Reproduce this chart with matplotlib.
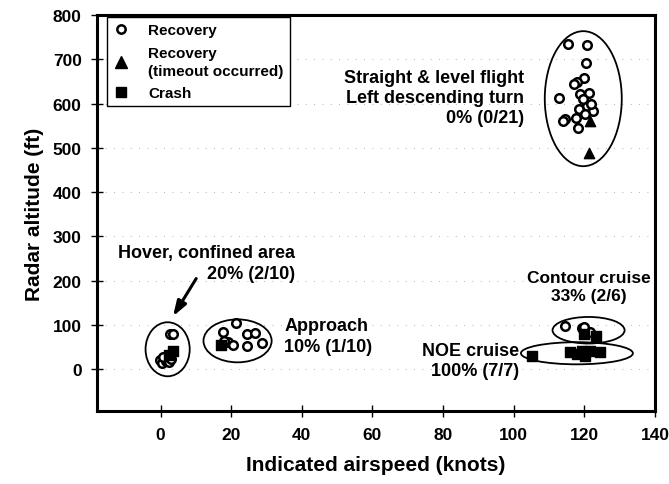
import matplotlib
matplotlib.use("Agg")
import matplotlib.pyplot as plt
from matplotlib.patches import Ellipse
from matplotlib.lines import Line2D

plt.rcParams["font.family"] = ["Liberation Sans", "DejaVu Sans"]
plt.rcParams["font.weight"] = "bold"

# ---- data (airspeed knots, radar altitude ft) ----
recovery_x = [115.3, 120.7, 120.4, 119.8, 117.8, 117.0, 112.7, 118.7, 121.2, 118.4,
              120.7, 122.4, 120.1, 117.6, 114.4, 113.9, 118.1, 119.5, 121.8,   # level / turn
              2.6, 3.6, -0.3, 0.4, 1.4, 2.4, 0.8, 3.0,                           # hover
              21.5, 17.6, 24.4, 26.6, 19.0, 20.4, 24.6, 28.6, 18.1,              # approach
              114.4, 119.3, 121.5, 120.0]                                        # contour
recovery_y = [734, 732, 691, 657, 648, 644, 612, 621, 624, 588,
              594, 583, 576, 567, 565, 561, 544, 610, 600,
              80, 80, 20, 14, 18, 17, 27, 22,
              104, 84, 79, 81, 61, 54, 52, 59, 64,
              97, 92, 83, 95]

timeout_x = [121.5, 121.3]
timeout_y = [561, 488]

crash_x = [3.6, 2.4,                                      # hover
           17.0,                                          # approach
           123.2, 119.8,                                  # contour
           105.1, 115.9, 119.3, 117.8, 121.5, 124.4, 120.1]  # NOE
crash_y = [42, 31,
           54,
           75, 80,
           29, 38, 41, 34, 41, 38, 29]

# group outlines: centre x, centre y, width, height
group_cx = [119.7, 2.0, 21.8, 121.2, 117.9]
group_cy = [611, 45, 64, 88, 36]
group_w = [21.8, 12.5, 19.3, 20.4, 31.7]
group_h = [305, 122, 97, 60, 50]

fig = plt.figure(figsize=(6.69, 4.85), dpi=100)
ax = fig.add_axes([0.145, 0.150, 0.834, 0.817])

for cx, cy, w, h in zip(group_cx, group_cy, group_w, group_h):
    ax.add_patch(Ellipse((cx, cy), w, h, fill=False, edgecolor="black",
                         linewidth=1.3, zorder=2))

ax.scatter(recovery_x, recovery_y, s=38, marker="o", facecolor="white",
           edgecolor="black", linewidths=1.8, zorder=3)
ax.scatter(timeout_x, timeout_y, s=55, marker="^", color="black", zorder=3)
ax.scatter(crash_x, crash_y, s=45, marker="s", color="black", zorder=3)

# annotations
txt = dict(fontsize=13, fontweight="bold")
ax.text(103, 614, "Straight & level flight\nLeft descending turn\n0% (0/21)",
        ha="right", va="center", linespacing=1.25, multialignment="right", **txt)
ax.text(38, 240, "Hover, confined area\n20% (2/10)", ha="right", va="center",
        linespacing=1.25, multialignment="right", **txt)
ax.annotate("", xy=(3.1, 114), xytext=(10.5, 210),
            arrowprops=dict(arrowstyle="-|>,head_width=0.3,head_length=0.9",
                            color="black", linewidth=2.2))
ax.text(35, 75, "Approach\n10% (1/10)", ha="left", va="center",
        linespacing=1.25, **txt)
ax.text(121.2, 187, "Contour cruise\n33% (2/6)", ha="center", va="center",
        linespacing=1.25, multialignment="center", fontsize=12.5, fontweight="bold")
ax.text(101.5, 20, "NOE cruise\n100% (7/7)", ha="right", va="center",
        linespacing=1.25, multialignment="right", **txt)

ax.set_xlim(-18, 140)
ax.set_ylim(-95, 800)
ax.set_xticks(range(0, 141, 20))
ax.set_yticks(range(0, 801, 100))
ax.tick_params(direction="inout", length=8, width=1, labelsize=12.5, pad=7)
for lab in ax.get_xticklabels() + ax.get_yticklabels():
    lab.set_fontweight("bold")
for sp in ax.spines.values():
    sp.set_linewidth(2.2)

ax.yaxis.grid(True, linestyle=(0, (1, 9)), color="0.6", linewidth=0.6)
ax.set_axisbelow(True)

ax.set_xlabel("Indicated airspeed (knots)", fontsize=15, fontweight="bold", labelpad=10)
ax.set_ylabel("Radar altitude (ft)", fontsize=15, fontweight="bold", labelpad=6)

handles = [
    Line2D([], [], linestyle="none", marker="o", markersize=6, markerfacecolor="white",
           markeredgecolor="black", markeredgewidth=1.8),
    Line2D([], [], linestyle="none", marker="^", markersize=8, color="black"),
    Line2D([], [], linestyle="none", marker="s", markersize=7, color="black"),
]
leg = ax.legend(handles, ["Recovery", "Recovery\n(timeout occurred)", "Crash"],
                loc="upper left", bbox_to_anchor=(0.018, 0.995), borderaxespad=0,
                fancybox=False, edgecolor="black", framealpha=1,
                prop=dict(size=11, weight="bold"), handletextpad=1.3,
                handlelength=1.0, labelspacing=0.55, borderpad=0.4)
leg.get_frame().set_linewidth(1.0)
for t in leg.get_texts():
    t.set_linespacing(1.4)

fig.savefig("out.png", dpi=100)
